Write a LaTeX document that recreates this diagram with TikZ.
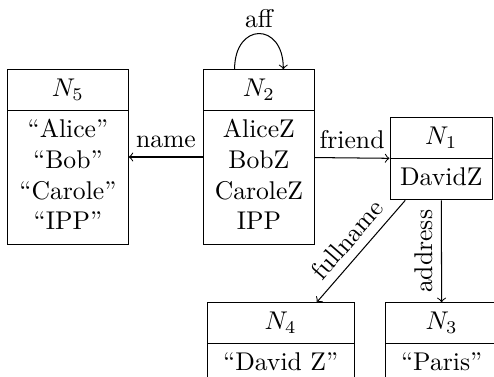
\documentclass[tikz,border=0pt]{standalone}
\usepackage{fontspec}
\usetikzlibrary{shapes.multipart}
\begin{document}
\begin{tikzpicture}[x=0.39pt,y=-0.39pt,
  rec/.style={draw, rectangle split, rectangle split parts=2, align=center,
    anchor=north west, inner ysep=1.8pt},
  arr/.style={->}]
\useasboundingbox (0,0) rectangle (494,377);
\clip (0,0) rectangle (494,377);
\node[rec, minimum width=46.9pt] (N5) at (7.3,69.3)
  {\strut$N_5$\nodepart{two}\strut“Alice”\\\strut“Bob”\\\strut“Carole”\\\strut“IPP”};
\node[rec, minimum width=43pt] (N2) at (203.3,69.3)
  {\strut$N_2$\nodepart{two}\strut AliceZ\\\strut BobZ\\\strut CaroleZ\\\strut IPP};
\node[rec, minimum width=40pt] (N1) at (389.5,117.3)
  {\strut$N_1$\nodepart{two}\strut DavidZ};
\node[rec, minimum width=57.3pt] (N4) at (206.7,302.3)
  {\strut$N_4$\nodepart{two}\strut“David Z”};
\node[rec, minimum width=43.8pt] (N3) at (385,302.3)
  {\strut$N_3$\nodepart{two}\strut“Paris”};
\draw[arr] ([xshift=-9.5pt]N2.north) to[out=90,in=90,looseness=2.5]
  node[above, inner sep=2pt] {aff} ([xshift=9.5pt]N2.north);
\draw[arr] (N2) -- (N5) node[midway, above] {name};
\draw[arr] (N2) -- (N1) node[midway, above] {friend};
\draw[arr] (N1) -- (N4) node[midway, sloped, above] {fullname};
\draw[arr] (N1) -- (N3) node[midway, above, rotate=90] {address};
\end{tikzpicture}
\end{document}
